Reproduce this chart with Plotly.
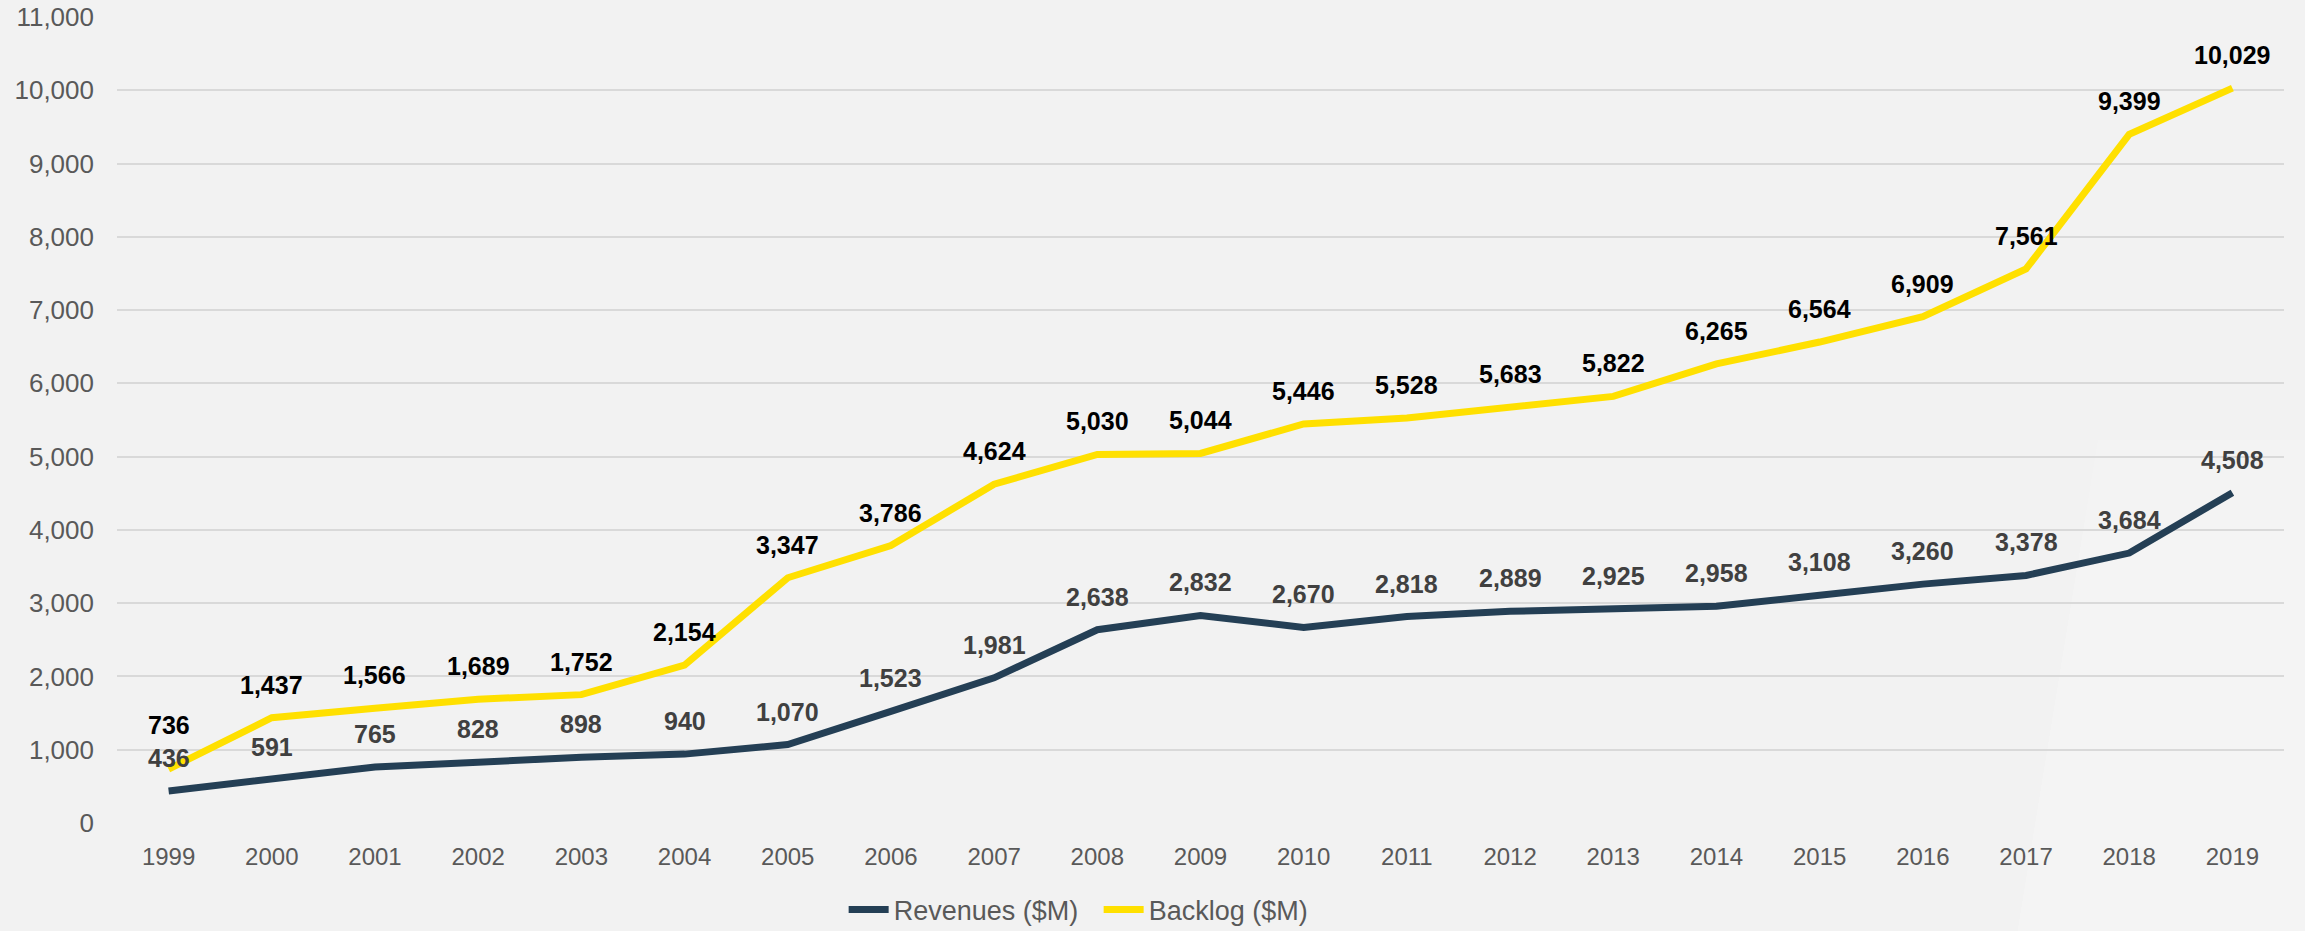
import plotly.graph_objects as go

years = [str(y) for y in range(1999, 2020)]
revenues = [436, 591, 765, 828, 898, 940, 1070, 1523, 1981, 2638, 2832, 2670, 2818, 2889, 2925, 2958, 3108, 3260, 3378, 3684, 4508]
backlog = [736, 1437, 1566, 1689, 1752, 2154, 3347, 3786, 4624, 5030, 5044, 5446, 5528, 5683, 5822, 6265, 6564, 6909, 7561, 9399, 10029]

rev_color = "#243f55"
bkl_color = "#ffe000"

fig = go.Figure()
fig.add_trace(go.Scatter(x=years, y=revenues, mode="lines", name="Revenues ($M)",
                         line=dict(color=rev_color, width=7)))
fig.add_trace(go.Scatter(x=years, y=backlog, mode="lines", name="Backlog ($M)",
                         line=dict(color=bkl_color, width=7)))

annotations = []
for i, v in enumerate(revenues):
    annotations.append(dict(x=i, y=v, xref="x", yref="y", text=f"<b>{v:,}</b>", showarrow=False,
                            yshift=33, font=dict(family="Liberation Sans, Arial", size=25, color="#404040"),
                            xanchor="center", yanchor="middle"))
for i, v in enumerate(backlog):
    annotations.append(dict(x=i, y=v, xref="x", yref="y", text=f"<b>{v:,}</b>", showarrow=False,
                            yshift=44 if i == 0 else 33,
                            font=dict(family="Liberation Sans, Arial", size=25, color="#000000"),
                            xanchor="center", yanchor="middle"))

# light diagonal sheen in the lower right corner (decoration)
def band(top_py, alpha):
    def px(p):
        return (p - 117) / 2167
    def py(p):
        return (822.7 - p) / 805.2
    slope = 0.164
    xb = 2017
    xt = xb + (931 - top_py) * slope
    return dict(type="path", xref="paper", yref="paper", layer="below", line=dict(width=0),
                fillcolor=f"rgba(255,255,255,{alpha})",
                path=f"M {px(xb)},{py(931)} L {px(xt)},{py(top_py)} L {px(2305)},{py(top_py)} L {px(2305)},{py(931)} Z")

shapes = [band(t, 0.08) for t in (440, 520, 600, 680, 760, 840)]

fig.update_layout(
    width=2305, height=931,
    paper_bgcolor="#f2f2f2", plot_bgcolor="rgba(0,0,0,0)",
    margin=dict(l=117, r=21, t=17, b=108, autoexpand=False),
    showlegend=True,
    legend=dict(orientation="h", x=0.453, xanchor="center", y=-0.108, yanchor="middle",
                font=dict(family="Liberation Sans, Arial", size=27, color="#595959"),
                bgcolor="rgba(0,0,0,0)", itemwidth=40, traceorder="normal",
                entrywidth=200, entrywidthmode="pixels"),
    annotations=annotations,
    shapes=shapes,
    xaxis=dict(type="category", range=[-0.5, 20.5], showgrid=False, zeroline=False, showline=False,
               tickfont=dict(family="Liberation Sans, Arial", size=24, color="#595959"),
               ticklabelstandoff=17),
    yaxis=dict(range=[0, 11000], dtick=1000, tickformat=",", showgrid=True, gridcolor="#d9d9d9", gridwidth=1.5,
               zeroline=False, showline=False,
               tickfont=dict(family="Liberation Sans, Arial", size=26, color="#595959"),
               ticklabelstandoff=22),
)

fig.write_html("out.html", config={"displayModeBar": False},
               post_script="document.body.style.margin='0';document.body.style.overflow='hidden';")
